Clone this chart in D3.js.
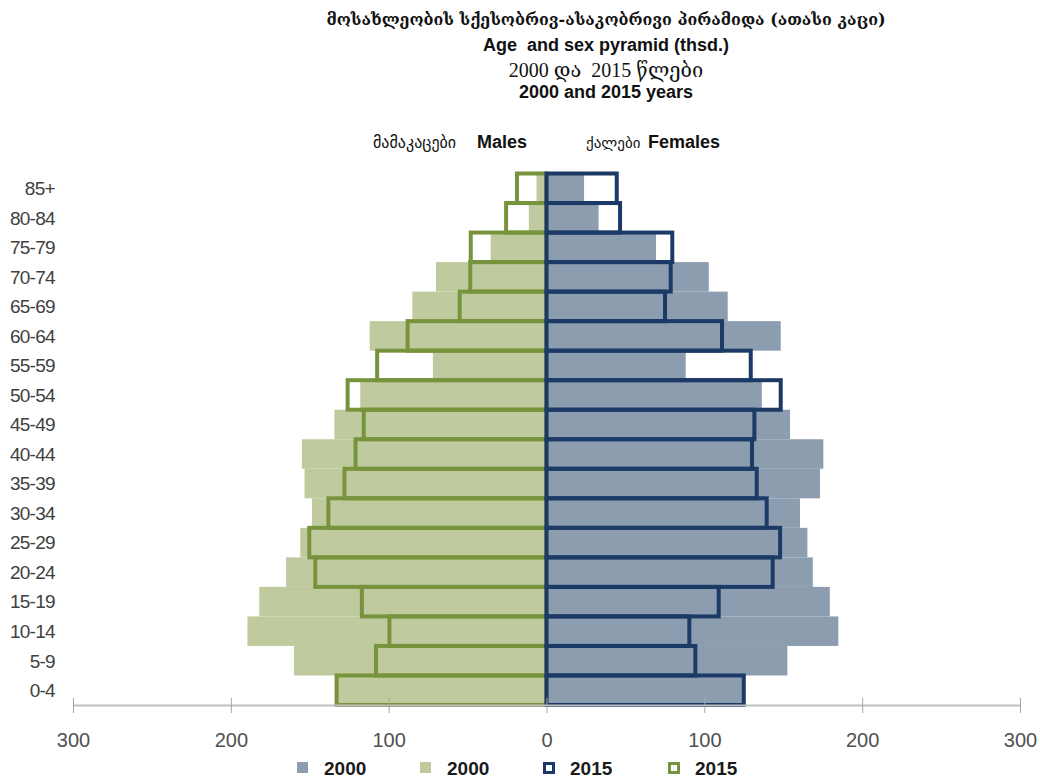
<!DOCTYPE html>
<html>
<head>
<meta charset="utf-8">
<script src="https://cdn.jsdelivr.net/npm/d3@7"></script>
<style>
  body { margin: 0; background: #fff; }
  svg { display: block; }
</style>
</head>
<body>
<div id="chart"></div>
<script>
// age groups, bottom to top
var ages = ["0-4", "5-9", "10-14", "15-19", "20-24", "25-29", "30-34", "35-39", "40-44",
            "45-49", "50-54", "55-59", "60-64", "65-69", "70-74", "75-79", "80-84", "85+"];

// thousands of persons
var male2000   = [133, 160, 189.5, 182, 165, 156, 148.6, 153.3, 155, 134.4, 118, 72, 112, 85, 70, 35.4, 11.2, 6.3];
var male2015   = [133, 108, 99.5, 117, 146.5, 150.3, 138.2, 128, 121, 115.8, 126, 107.3, 88, 55, 48.3, 48, 25.6, 18.7];
var female2000 = [124, 152.6, 184.9, 179.5, 168.7, 165.3, 160.6, 173.3, 175.4, 154.3, 136.4, 88.2, 148.4, 114.8, 102.8, 69.4, 33, 23.8];
var female2015 = [125, 94.3, 90.5, 109.1, 143.3, 148, 139.5, 133.2, 130.2, 131.7, 148.4, 129.4, 111.2, 75.1, 78.7, 79.7, 46.6, 44.5];

var xTicks = [-300, -200, -100, 0, 100, 200, 300];

var titleLines = [
    "მოსახლეობის სქესობრივ-ასაკობრივი პირამიდა (ათასი კაცი)",
    "Age  and sex pyramid (thsd.)",
    "2000 და  2015 წლები",
    "2000 and 2015 years"
];

var legendItems = [
    {label: "2000", color: "#8c9db0", outline: false},
    {label: "2000", color: "#bfcb9f", outline: false},
    {label: "2015", color: "#1c3a66", outline: true},
    {label: "2015", color: "#77933c", outline: true}
];

var width = 1040, height = 778;
var colFemale = "#8c9db0", colMale = "#bfcb9f", colFemale15 = "#1c3a66", colMale15 = "#77933c";

var svg = d3.select("#chart").append("svg")
    .attr("width", width)
    .attr("height", height);

var x = d3.scaleLinear().domain([-300, 300]).range([73, 1020]);
var y = d3.scaleBand().domain(ages.slice().reverse()).range([173.5, 705]).padding(0);

// titles
var titleFonts = [
    {font: "'DejaVu Serif', 'DejaVu Sans', serif", size: 16, weight: "bold", y: 25},
    {font: "'Liberation Sans Narrow', 'Liberation Sans', sans-serif", size: 18, weight: "bold", y: 51},
    {font: "'Liberation Serif', 'DejaVu Serif', serif", size: 20, weight: "normal", y: 77},
    {font: "'Liberation Sans Narrow', 'Liberation Sans', sans-serif", size: 18, weight: "bold", y: 98}
];
titleLines.forEach(function(t, i) {
    svg.append("text")
        .attr("x", 606)
        .attr("y", titleFonts[i].y)
        .attr("text-anchor", "middle")
        .attr("xml:space", "preserve")
        .style("white-space", "pre")
        .style("font-family", titleFonts[i].font)
        .style("font-size", titleFonts[i].size + "px")
        .style("font-weight", titleFonts[i].weight)
        .style("fill", "#111")
        .text(t);
});

// side headers
svg.append("text")
    .attr("x", 373).attr("y", 148)
    .style("font-family", "'DejaVu Sans', sans-serif")
    .style("font-size", "16px")
    .style("fill", "#111")
    .text("მამაკაცები");
svg.append("text")
    .attr("x", 477).attr("y", 148)
    .style("font-family", "'Liberation Sans Narrow', 'Liberation Sans', sans-serif")
    .style("font-size", "18px").style("font-weight", "bold")
    .style("fill", "#111")
    .text("Males");
svg.append("text")
    .attr("x", 586).attr("y", 148)
    .style("font-family", "'DejaVu Sans', sans-serif")
    .style("font-size", "15px")
    .style("fill", "#111")
    .text("ქალები");
svg.append("text")
    .attr("x", 648).attr("y", 148)
    .style("font-family", "'Liberation Sans Narrow', 'Liberation Sans', sans-serif")
    .style("font-size", "18px").style("font-weight", "bold")
    .style("fill", "#111")
    .text("Females");

var g = svg.append("g");

//2000 filled bars
g.selectAll(".f2000").data(female2000).enter().append("rect")
    .attr("x", x(0))
    .attr("y", (d, i) => y(ages[i]))
    .attr("width", d => x(d) - x(0))
    .attr("height", y.bandwidth())
    .attr("fill", colFemale);

g.selectAll(".m2000").data(male2000).enter().append("rect")
    .attr("x", d => x(-d))
    .attr("y", (d, i) => y(ages[i]))
    .attr("width", d => x(0) - x(-d))
    .attr("height", y.bandwidth())
    .attr("fill", colMale);

//vertical category axis with small ticks
g.append("line")
    .attr("x1", x(0)).attr("x2", x(0))
    .attr("y1", y.range()[0]).attr("y2", y.range()[1])
    .attr("stroke", "#9a9a9a");
g.selectAll(".vtick").data(ages).enter().append("line")
    .attr("x1", x(0) - 6).attr("x2", x(0) + 6)
    .attr("y1", d => y(d)).attr("y2", d => y(d))
    .attr("stroke", "#9a9a9a");

//2015 outlined bars
g.selectAll(".m2015").data(male2015).enter().append("rect")
    .attr("x", d => x(-d))
    .attr("y", (d, i) => y(ages[i]))
    .attr("width", d => x(0) - x(-d))
    .attr("height", y.bandwidth())
    .attr("fill", "none")
    .attr("stroke", colMale15)
    .attr("stroke-width", 4);

g.selectAll(".f2015").data(female2015).enter().append("rect")
    .attr("x", x(0))
    .attr("y", (d, i) => y(ages[i]))
    .attr("width", d => x(d) - x(0))
    .attr("height", y.bandwidth())
    .attr("fill", "none")
    .attr("stroke", colFemale15)
    .attr("stroke-width", 4);

// y labels
svg.selectAll(".ylab").data(ages).enter().append("text")
    .attr("x", 55)
    .attr("y", d => y(d) + y.bandwidth() / 2)
    .attr("dy", "0.36em")
    .attr("text-anchor", "end")
    .style("font-family", "'Liberation Sans Narrow', 'Liberation Sans', sans-serif")
    .style("font-size", "19px")
    .style("letter-spacing", "-0.7px")
    .style("fill", "#404040")
    .text(d => d);

// x axis
var axisY = 705;
var xAxis = svg.append("g")
    .attr("transform", "translate(0," + axisY + ")")
    .call(d3.axisBottom(x).tickValues(xTicks).tickSize(8).tickSizeOuter(0).tickFormat(d => Math.abs(d)));
xAxis.select(".domain").attr("stroke", "#bfbfbf").attr("stroke-width", 2);
xAxis.selectAll(".tick line").attr("stroke", "#a6a6a6").attr("y1", -7).attr("y2", 8);
xAxis.selectAll(".tick text")
    .attr("y", 28)
    .style("font-family", "'Liberation Sans Narrow', 'Liberation Sans', sans-serif")
    .style("font-size", "20px")
    .style("fill", "#505050");

// legend
var legendX = [297, 420, 543, 668];
var legend = svg.selectAll(".leg").data(legendItems).enter().append("g")
    .attr("transform", (d, i) => "translate(" + legendX[i] + ",769)");
legend.append("rect")
    .attr("x", d => d.outline ? 1.5 : 0)
    .attr("y", d => d.outline ? -5.5 : -7)
    .attr("width", d => d.outline ? 9 : 11)
    .attr("height", d => d.outline ? 9 : 11)
    .attr("fill", d => d.outline ? "#fff" : d.color)
    .attr("stroke", d => d.outline ? d.color : "none")
    .attr("stroke-width", 3);
legend.append("text")
    .attr("x", 27)
    .attr("y", 6)
    .style("font-family", "'Liberation Sans Narrow', 'Liberation Sans', sans-serif")
    .style("font-size", "19px")
    .style("font-weight", "bold")
    .style("fill", "#1a1a1a")
    .text(d => d.label);
</script>
</body>
</html>
